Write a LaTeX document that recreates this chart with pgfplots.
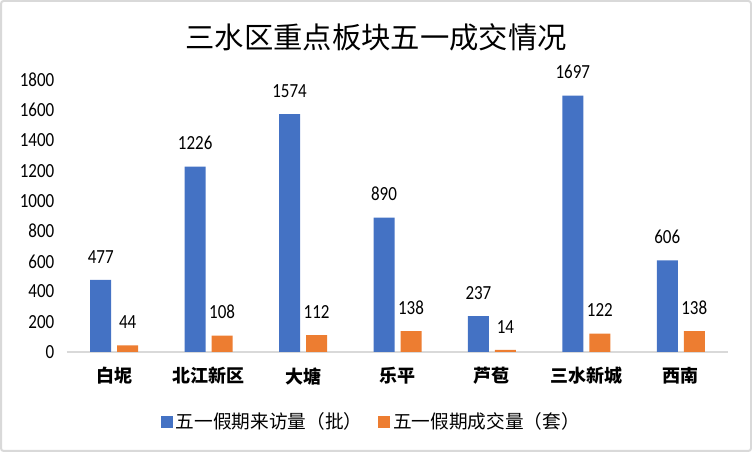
\documentclass[border=0pt]{standalone}
\usepackage{pgfplots}
\pgfplotsset{compat=1.18}
\usepackage{fontspec}
\setmainfont{Carlito}
\newfontfamily\numfont[FakeStretch=0.85]{Carlito}
\newfontfamily\cjk{Noto Sans CJK SC}
\definecolor{cblue}{HTML}{4472C4}
\definecolor{corange}{HTML}{ED7D31}
\definecolor{cgray}{HTML}{D9D9D9}
\begin{document}
\begin{tikzpicture}
\useasboundingbox (0pt,0pt) rectangle (564pt,339pt);
\draw[draw=cgray, line width=1.5pt, rounded corners=2pt] (0.75pt,0.75pt) rectangle (563.25pt,338.25pt);
\node[font=\cjk\fontsize{22}{25}\selectfont] at (282pt,311pt) {三水区重点板块五一成交情况};
\begin{axis}[
  at={(50.25pt,75pt)}, anchor=origin,
  scale only axis, width=495.75pt, height=204pt,
  xmin=0, xmax=7, ymin=0, ymax=1800,
  clip=false,
  ybar=4.5pt, bar width=15.75pt,
  xtick={0.5,1.5,...,6.5},
  xticklabels={白坭,北江新区,大塘,乐平,芦苞,三水新城,西南},
  xticklabel style={font=\cjk\bfseries\fontsize{13.5}{15}\selectfont, yshift=-8pt},
  ytick={0,200,...,1800},
  yticklabel style={font=\numfont\fontsize{15}{17}\selectfont, xshift=-6pt},
  /pgf/number format/assume math mode=true,
  /pgf/number format/1000 sep={},
  major tick length=0pt,
  axis x line*=bottom, axis y line*=left,
  x axis line style={-, draw=cgray, line width=1.5pt},
  y axis line style={draw=none},
  nodes near coords,
  every node near coord/.append style={font=\numfont\fontsize{15}{17}\selectfont, black, yshift=9pt},
  legend style={at={(0.461,-0.257)}, anchor=center, draw=none, legend columns=2,
    font=\cjk\fontsize{14}{16}\selectfont,
    /tikz/every even column/.append style={column sep=10pt}},
  legend image code/.code={\fill[#1] (0pt,-4.5pt) rectangle (9pt,4.5pt);},
]
\addplot[fill=cblue, draw=none] coordinates {(0.5,477) (1.5,1226) (2.5,1574) (3.5,890) (4.5,237) (5.5,1697) (6.5,606)};
\addplot[fill=corange, draw=none] coordinates {(0.5,44) (1.5,108) (2.5,112) (3.5,138) (4.5,14) (5.5,122) (6.5,138)};
\legend{五一假期来访量（批）,五一假期成交量（套）}
\end{axis}
\end{tikzpicture}
\end{document}
